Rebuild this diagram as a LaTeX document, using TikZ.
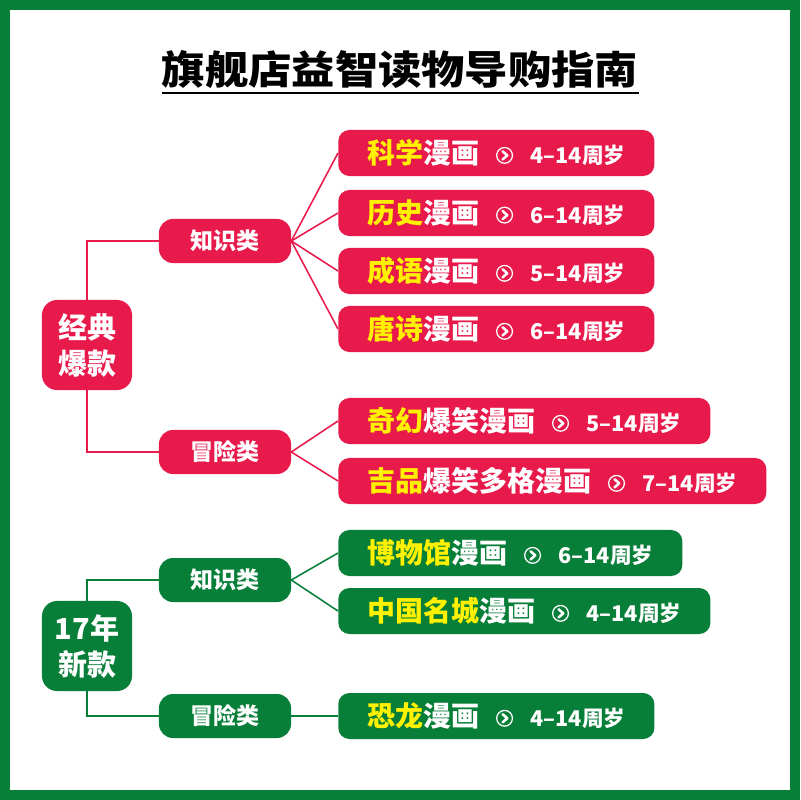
\documentclass[tikz,border=0pt]{standalone}
\usepackage{fontspec}
\setmainfont{Noto Sans CJK SC}
\usetikzlibrary{positioning}
\definecolor{guideRed}{HTML}{E8194B}
\definecolor{guideGreen}{HTML}{087F38}
\definecolor{guideYellow}{HTML}{FFF100}
\tikzset{
  rootBox/.style={
    fill=#1,
    rounded corners=0.375cm,
    minimum width=2.25cm,
    minimum height=2.25cm,
    text=white,
    align=center,
    font=\bfseries\fontsize{20.6}{25.6}\selectfont,
    inner sep=0pt
  },
  typeBox/.style={
    fill=#1,
    rounded corners=0.35cm,
    minimum width=3.3cm,
    minimum height=1.1cm,
    text=white,
    font=\bfseries\fontsize{16.4}{18}\selectfont,
    inner sep=0pt
  },
  bookBox/.style={
    fill=#1,
    rounded corners=0.28cm,
    minimum height=1.15cm,
    anchor=west,
    text=white,
    font=\bfseries\fontsize{19.9}{22}\selectfont,
    inner xsep=20.6pt,
    inner ysep=0pt
  },
  branchLine/.style={draw=#1, line width=1.8pt},
  fanLine/.style={draw=#1, line width=1.1pt},
  titleRule/.style={line width=1.5pt}
}
\newcommand{\ylw}[1]{{\color{guideYellow}#1}}
\newcommand{\goicon}{\tikz[baseline=-0.55ex, sharp corners]{%
  \draw[white, line width=0.9pt] (0pt,0pt) circle (5.6pt);
  \draw[white, line width=1.8pt, line cap=round, line join=round]
    (-1.4pt,2.9pt) -- (1.9pt,0pt) -- (-1.4pt,-2.9pt);}}
\newcommand{\agetag}[1]{\hspace{12pt}\goicon\hspace{12.5pt}%
  {\fontsize{15.4}{18}\selectfont #1}}

\begin{document}
\begin{tikzpicture}[x=0.025cm, y=-0.025cm]
  \useasboundingbox (0,0) rectangle (800,800);
  \draw[guideGreen, line width=0.25cm] (5,5) rectangle (795,795);

  \node[font=\bfseries\fontsize{28}{32}\selectfont, anchor=base,
    inner sep=0pt] (title) at (400,85)
    {\scalebox{1.1}[1]{旗舰店益智读物导购指南}};
  \draw[titleRule] ([yshift=-0.2cm]title.base west)
    -- ([yshift=-0.2cm]title.base east);

  % classic best sellers
  \node[rootBox=guideRed] (classic) at (87,345) {经典\\爆款};
  \node[typeBox=guideRed] (classicKnow) at (225,241) {知识类};
  \node[typeBox=guideRed] (classicAdv) at (225,452) {冒险类};

  \node[bookBox=guideRed] (science) at (338,153)
    {\ylw{科学}漫画\agetag{4–14周岁}};
  \node[bookBox=guideRed] (history) at (338,213)
    {\ylw{历史}漫画\agetag{6–14周岁}};
  \node[bookBox=guideRed] (idiom) at (338,271)
    {\ylw{成语}漫画\agetag{5–14周岁}};
  \node[bookBox=guideRed] (poem) at (338,329)
    {\ylw{唐诗}漫画\agetag{6–14周岁}};
  \node[bookBox=guideRed] (fantasy) at (338,421)
    {\ylw{奇幻}爆笑漫画\agetag{5–14周岁}};
  \node[bookBox=guideRed] (jipin) at (338,481)
    {\ylw{吉品}爆笑多格漫画\agetag{7–14周岁}};

  \draw[branchLine=guideRed] (classic.north) |- (classicKnow.west);
  \draw[branchLine=guideRed] (classic.south) |- (classicAdv.west);
  \foreach \b in {science,history,idiom,poem}
    \draw[fanLine=guideRed] (classicKnow.east) -- (\b.west);
  \foreach \b in {fantasy,jipin}
    \draw[fanLine=guideRed] (classicAdv.east) -- (\b.west);

  % new in 2017
  \node[rootBox=guideGreen] (fresh) at (87,646) {17年\\新款};
  \node[typeBox=guideGreen] (freshKnow) at (225,580) {知识类};
  \node[typeBox=guideGreen] (freshAdv) at (225,716) {冒险类};

  \node[bookBox=guideGreen] (museum) at (338,553)
    {\ylw{博物馆}漫画\agetag{6–14周岁}};
  \node[bookBox=guideGreen] (cities) at (338,611)
    {\ylw{中国名城}漫画\agetag{4–14周岁}};
  \node[bookBox=guideGreen] (dino) at (338,716)
    {\ylw{恐龙}漫画\agetag{4–14周岁}};

  \draw[branchLine=guideGreen] (fresh.north) |- (freshKnow.west);
  \draw[branchLine=guideGreen] (fresh.south) |- (freshAdv.west);
  \foreach \b in {museum,cities}
    \draw[fanLine=guideGreen] (freshKnow.east) -- (\b.west);
  \draw[fanLine=guideGreen] (freshAdv.east) -- (dino.west);
\end{tikzpicture}
\end{document}
